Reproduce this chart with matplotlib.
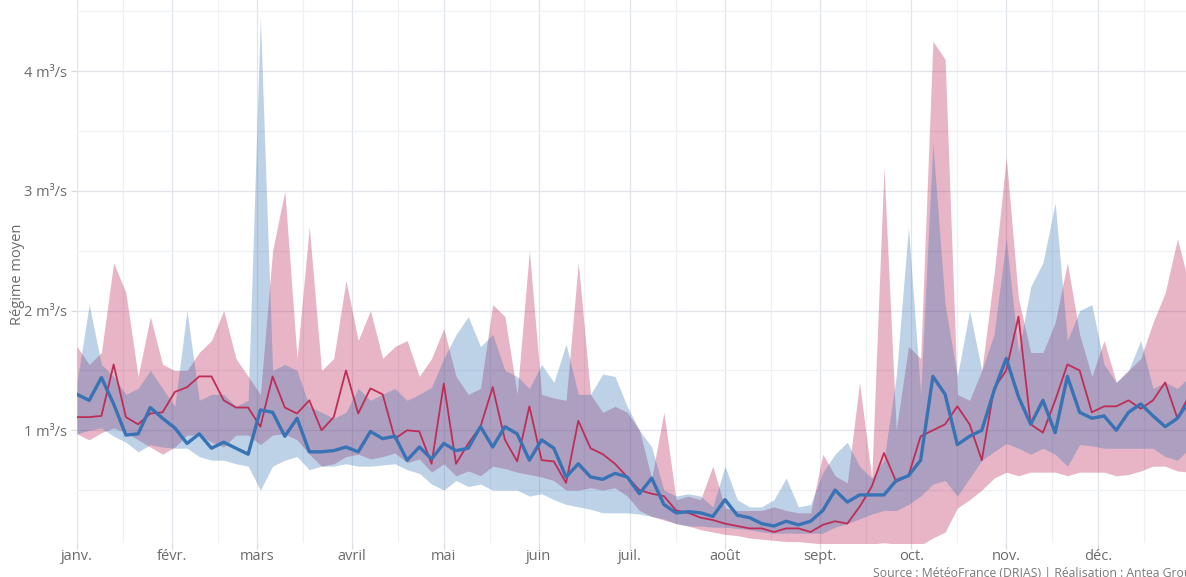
import numpy as np
import pandas as pd
import matplotlib
matplotlib.use("Agg")
import matplotlib.pyplot as plt
import matplotlib.dates as mdates
from matplotlib.ticker import FuncFormatter, MultipleLocator

plt.rcParams['font.family'] = ['Open Sans', 'DejaVu Sans']

# one sample every 4 days, 1 Jan -> 31 Dec
dates = pd.date_range("2021-01-01", periods=92, freq="4D")

months_fr = ["janv.", "févr.", "mars", "avril", "mai", "juin",
             "juil.", "août", "sept.", "oct.", "nov.", "déc."]

# mean regime (m3/s)
blue_mean = [1.30, 1.25, 1.44, 1.22, 0.96, 0.97, 1.19, 1.10, 1.02, 0.89, 0.97, 0.85,
             0.90, 0.85, 0.80, 1.17, 1.15, 0.95, 1.10, 0.82, 0.82, 0.83, 0.86,
             0.82, 0.99, 0.93, 0.95, 0.75, 0.86, 0.76, 0.89, 0.83, 0.85, 1.03, 0.86,
             1.03, 0.97, 0.75, 0.92, 0.85, 0.61, 0.72, 0.61, 0.59, 0.64, 0.61,
             0.47, 0.60, 0.38, 0.31, 0.32, 0.31, 0.28, 0.42, 0.29, 0.27, 0.22, 0.20,
             0.24, 0.21, 0.24, 0.33, 0.50, 0.40, 0.46, 0.46,
             0.46, 0.58, 0.62, 0.75, 1.45, 1.30, 0.88, 0.95, 1.00, 1.33, 1.60, 1.28,
             1.05, 1.25, 0.98, 1.45, 1.15, 1.10, 1.12, 1.00, 1.15, 1.22, 1.12, 1.03,
             1.10, 1.25]
red_mean = [1.11, 1.11, 1.12, 1.55, 1.11, 1.05, 1.14, 1.15, 1.32, 1.36, 1.45, 1.45,
            1.25, 1.19, 1.19, 1.03, 1.45, 1.19, 1.14, 1.25, 1.00, 1.11, 1.50,
            1.14, 1.35, 1.30, 0.93, 1.00, 0.99, 0.72, 1.39, 0.72, 0.89, 1.03, 1.36,
            0.92, 0.74, 1.20, 0.75, 0.74, 0.56, 1.08, 0.85, 0.80, 0.72, 0.61,
            0.50, 0.47, 0.45, 0.33, 0.31, 0.27, 0.25, 0.22, 0.20, 0.18, 0.18, 0.15,
            0.18, 0.18, 0.15, 0.21, 0.24, 0.22, 0.36, 0.53,
            0.81, 0.57, 0.62, 0.95, 1.00, 1.05, 1.20, 1.05, 0.75, 1.35, 1.50, 1.95,
            1.05, 0.98, 1.25, 1.55, 1.50, 1.15, 1.20, 1.20, 1.25, 1.18, 1.25, 1.40,
            1.10, 1.30]

# spread between models (min / max)
blue_hi = [1.40, 2.05, 1.55, 1.45, 1.30, 1.35, 1.50, 1.35, 1.20, 2.00, 1.25, 1.30,
           1.30, 1.20, 1.25, 4.45, 1.50, 1.55, 1.50, 1.20, 1.15, 1.10, 1.15,
           1.35, 1.25, 1.30, 1.35, 1.25, 1.30, 1.36, 1.60, 1.80, 1.95, 1.70, 1.80,
           1.50, 1.45, 1.35, 1.55, 1.40, 1.72, 1.30, 1.30, 1.47, 1.45, 1.20,
           1.00, 0.86, 0.50, 0.45, 0.47, 0.45, 0.36, 0.70, 0.42, 0.36, 0.36, 0.42,
           0.60, 0.36, 0.38, 0.65, 0.80, 0.90, 0.70, 0.60,
           0.75, 1.45, 2.70, 1.30, 3.40, 2.05, 1.45, 2.00, 1.50, 1.80, 2.60, 1.65,
           2.20, 2.40, 2.90, 1.75, 2.00, 2.05, 1.55, 1.40, 1.50, 1.75, 1.35, 1.40,
           1.35, 1.45]
blue_lo = [0.97, 1.00, 1.02, 0.95, 0.90, 0.82, 0.88, 0.86, 0.85, 0.85, 0.78, 0.75,
           0.75, 0.72, 0.70, 0.50, 0.70, 0.75, 0.78, 0.67, 0.70, 0.70, 0.72,
           0.70, 0.70, 0.71, 0.72, 0.67, 0.64, 0.55, 0.50, 0.58, 0.53, 0.55, 0.50,
           0.50, 0.50, 0.45, 0.47, 0.42, 0.38, 0.36, 0.34, 0.31, 0.31, 0.31,
           0.30, 0.28, 0.26, 0.22, 0.20, 0.20, 0.19, 0.19, 0.18, 0.17, 0.15, 0.14,
           0.14, 0.14, 0.14, 0.14, 0.19, 0.22, 0.26, 0.30,
           0.33, 0.33, 0.38, 0.45, 0.55, 0.58, 0.45, 0.60, 0.75, 0.82, 0.89, 0.85,
           0.80, 0.85, 0.80, 0.70, 0.88, 0.87, 0.85, 0.85, 0.85, 0.85, 0.85, 0.78,
           0.75, 0.85]
red_hi = [1.70, 1.55, 1.65, 2.40, 2.15, 1.45, 1.95, 1.55, 1.50, 1.50, 1.65, 1.75,
          2.00, 1.60, 1.45, 1.30, 2.50, 3.00, 1.60, 2.70, 1.50, 1.60, 2.25,
          1.75, 2.00, 1.60, 1.70, 1.75, 1.45, 1.60, 1.85, 1.45, 1.30, 1.35, 2.05,
          1.95, 1.30, 2.50, 1.30, 1.27, 1.25, 2.40, 1.30, 1.15, 1.20, 1.15,
          1.00, 0.60, 1.15, 0.42, 0.45, 0.42, 0.70, 0.35, 0.33, 0.33, 0.33, 0.36,
          0.33, 0.31, 0.31, 0.80, 0.62, 0.56, 1.40, 0.60,
          3.20, 1.00, 1.70, 1.60, 4.25, 4.10, 1.30, 1.25, 1.50, 2.30, 3.28, 2.10,
          1.65, 1.65, 1.90, 2.40, 1.80, 1.45, 1.75, 1.40, 1.50, 1.60, 1.90, 2.15,
          2.60, 2.20]
red_lo = [0.97, 0.92, 0.98, 1.02, 0.98, 0.92, 0.86, 0.80, 0.86, 0.96, 0.96, 0.90,
          0.86, 0.96, 0.96, 0.88, 0.96, 0.97, 0.92, 0.80, 0.70, 0.72, 0.78,
          0.80, 0.76, 0.78, 0.81, 0.73, 0.76, 0.65, 0.72, 0.62, 0.66, 0.62, 0.70,
          0.68, 0.65, 0.63, 0.61, 0.58, 0.50, 0.50, 0.52, 0.50, 0.52, 0.45,
          0.33, 0.28, 0.25, 0.22, 0.20, 0.17, 0.15, 0.13, 0.12, 0.10, 0.09, 0.08,
          0.07, 0.07, 0.06, 0.05, 0.04, 0.04, 0.04, 0.05,
          0.06, 0.05, 0.04, 0.04, 0.10, 0.15, 0.35, 0.42, 0.50, 0.60, 0.65, 0.62,
          0.65, 0.65, 0.65, 0.62, 0.65, 0.65, 0.65, 0.62, 0.63, 0.66, 0.70, 0.70,
          0.66, 0.65]

red_c = "#bf2d57"
blue_c = "#3873b5"
text_c = "#6b6b6b"

fig = plt.figure(figsize=(11.86, 5.77), dpi=100)
# plot area runs past the top and right edges (the source image is cropped)
ax = fig.add_axes([0.0649, 0.0589, 0.9351, 0.9411])

ax.fill_between(dates, red_lo, red_hi, color="#b5194f", alpha=0.32, linewidth=0)
ax.fill_between(dates, blue_lo, blue_hi, color="#2a6db0", alpha=0.3, linewidth=0)
ax.plot(dates, red_mean, color=red_c, linewidth=1.3)
ax.plot(dates, blue_mean, color=blue_c, linewidth=2.4)

ax.set_xlim(pd.Timestamp("2021-01-01"), pd.Timestamp("2021-01-01") + pd.Timedelta(days=362.8))
ax.set_ylim(0.058, 4.595)

ax.xaxis.set_major_locator(mdates.MonthLocator())
ax.xaxis.set_minor_locator(mdates.MonthLocator(bymonthday=16))
ax.xaxis.set_major_formatter(FuncFormatter(lambda v, p: months_fr[mdates.num2date(v).month - 1]))
ax.yaxis.set_major_locator(MultipleLocator(1))
ax.yaxis.set_minor_locator(MultipleLocator(0.5))
ax.yaxis.set_major_formatter(FuncFormatter(lambda v, p: f"{v:g} m³/s"))

ax.grid(True, which="major", color="#e1e4ea", linewidth=0.9)
ax.grid(True, which="minor", color="#eef0f4", linewidth=0.9)
ax.set_axisbelow(True)
for s in ax.spines.values():
    s.set_visible(False)
ax.tick_params(axis="both", which="major", colors="#d8dbe0", labelcolor=text_c,
               labelsize=10.5, length=4, width=0.9)
ax.tick_params(axis="both", which="minor", length=0)
ax.tick_params(axis="x", pad=0.5)
ax.tick_params(axis="y", pad=3)

ax.set_ylabel("Régime moyen", color=text_c, fontsize=10.5)
ax.yaxis.set_label_coords(-0.047, 0.494)

fig.text(0.736, -0.006, "Source : MétéoFrance (DRIAS) | Réalisation : Antea Group",
         color="#7a7a7a", fontsize=8.8, ha="left", va="bottom")

fig.savefig("out.png", dpi=100)
